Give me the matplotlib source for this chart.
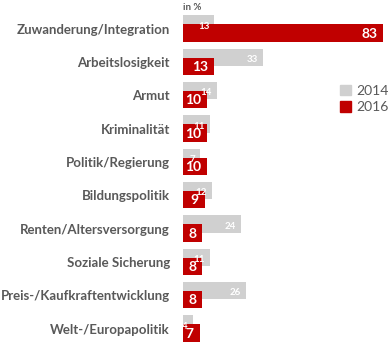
import matplotlib
matplotlib.use("Agg")
import matplotlib.pyplot as plt
from matplotlib.patches import Patch

categories = ["Zuwanderung/Integration", "Arbeitslosigkeit", "Armut", "Kriminalität",
              "Politik/Regierung", "Bildungspolitik", "Renten/Altersversorgung",
              "Soziale Sicherung", "Preis-/Kaufkraftentwicklung", "Welt-/Europapolitik"]
values_2014 = [13, 33, 14, 11, 7, 12, 24, 11, 26, 4]
values_2016 = [83, 13, 10, 10, 10, 9, 8, 8, 8, 7]
series_names = ["2014", "2016"]

GRAY = "#d0d0d0"
RED = "#c00000"
TEXT = "#595959"
FONT = ["Lato", "DejaVu Sans"]

W, H = 390, 349
fig = plt.figure(figsize=(W / 100, H / 100), dpi=100)
ax = fig.add_axes([183 / W, 1 - 345.2 / H, 200 / W, (345.2 - 11.9) / H])

ys = list(range(len(categories)))
off = 0.135
h = 0.52
ax.barh([y - off for y in ys], values_2014, height=h, color=GRAY, zorder=1)
ax.barh([y + off for y in ys], values_2016, height=h, color=RED, zorder=2)

for y, v in zip(ys, values_2014):
    ax.annotate(str(v), (v, y - off + 0.06), xytext=(-5, 0), textcoords="offset pixels",
                ha="right", va="center", color="white", fontsize=7,
                family=FONT, fontweight="bold", zorder=3)
for y, v in zip(ys, values_2016):
    ax.annotate(str(v), (v, y + off + 0.02), xytext=(-6, 0), textcoords="offset pixels",
                ha="right", va="center", color="white", fontsize=10,
                family=FONT, fontweight="bold", zorder=4)

ax.set_xlim(0, 83)
ax.set_ylim(len(categories) - 0.5, -0.5)
ax.set_yticks(ys)
ax.set_yticklabels(categories, family=FONT, fontweight="bold", fontsize=9.5, color=TEXT)
ax.tick_params(axis="y", length=0, pad=9.5)
ax.set_xticks([])
for s in ax.spines.values():
    s.set_visible(False)

fig.text(183 / W, 1 - 8 / H, "in %", ha="left", va="center", fontsize=7,
         color=TEXT, family=FONT, fontweight="bold")

handles = [Patch(color=GRAY), Patch(color=RED)]
leg = fig.legend(handles, series_names, loc="center left",
                 bbox_to_anchor=(340 / W, 1 - 99 / H), frameon=False,
                 borderaxespad=0, borderpad=0,
                 handlelength=0.8, handleheight=0.8, handletextpad=0.35,
                 labelspacing=0.3, prop={"family": FONT, "size": 10})
for t in leg.get_texts():
    t.set_color(TEXT)

fig.savefig("out.png", dpi=100)
